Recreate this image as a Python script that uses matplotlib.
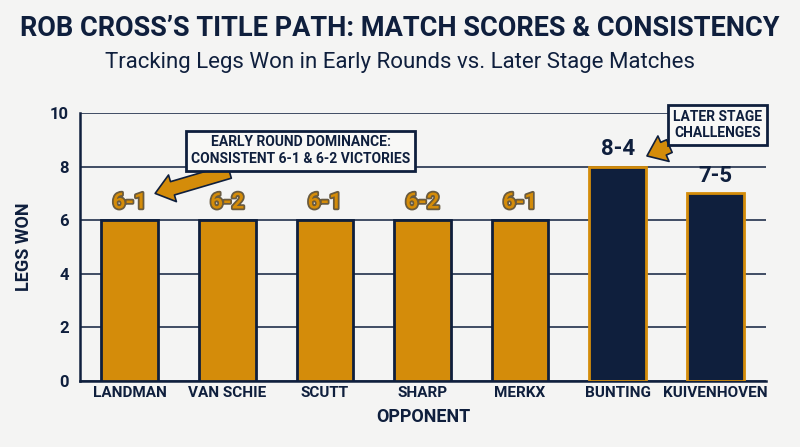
import matplotlib.pyplot as plt
import matplotlib.patheffects as pe

plt.rcParams['font.family'] = ['Roboto', 'DejaVu Sans']

opponents = ['LANDMAN', 'VAN SCHIE', 'SCUTT', 'SHARP', 'MERKX', 'BUNTING', 'KUIVENHOVEN']
legs_won = [6, 6, 6, 6, 6, 8, 7]
scores = ['6-1', '6-2', '6-1', '6-2', '6-1', '8-4', '7-5']
later_stage = [False, False, False, False, False, True, True]

gold = '#D48C0A'
navy = '#0F1F3D'
bg = '#F4F4F3'

fig = plt.figure(figsize=(8, 4.47), dpi=100, facecolor=bg)
ax = fig.add_axes([0.1, 0.148, 0.8575, 0.599])
ax.set_facecolor(bg)

x = range(len(opponents))
for i in x:
    fc = navy if later_stage[i] else gold
    ec = gold if later_stage[i] else navy
    ax.bar(i, legs_won[i], width=0.58, color=fc, edgecolor=ec, linewidth=2, zorder=3)
    if later_stage[i]:
        ax.text(i, legs_won[i] + 0.25, scores[i], ha='center', va='bottom',
                fontsize=16, fontweight='bold', color=navy, zorder=4)
    else:
        ax.text(i, legs_won[i] + 0.25, scores[i], ha='center', va='bottom',
                fontsize=16, fontweight='bold', color=gold, zorder=4,
                path_effects=[pe.withStroke(linewidth=2.5, foreground='#3a2806', alpha=0.75)])

ax.set_xlim(-0.51, 6.52)
ax.set_ylim(0, 10)
ax.set_yticks(range(0, 11, 2))
ax.yaxis.grid(True, color=navy, linewidth=1.1, zorder=0)
ax.tick_params(axis='both', length=0, colors=navy, labelsize=12)
ax.tick_params(axis='y', pad=8)
ax.set_xticks(list(x))
ax.set_xticklabels(opponents, fontweight='bold', fontsize=11)
for lbl in ax.get_yticklabels():
    lbl.set_fontweight('bold')
for s in ['top', 'right']:
    ax.spines[s].set_visible(False)
for s in ['left', 'bottom']:
    ax.spines[s].set_color(navy)
    ax.spines[s].set_linewidth(1.8)

ax.set_ylabel('LEGS WON', fontsize=13, fontweight='bold', color=navy, labelpad=12)
ax.set_xlabel('OPPONENT', fontsize=13, fontweight='bold', color=navy, labelpad=6)

box = dict(boxstyle='square,pad=0.35', fc='#F8F8F6', ec=navy, lw=2)
arrow = dict(arrowstyle='simple,head_length=1.3,head_width=2.0,tail_width=1.0',
             fc=gold, ec=navy, lw=1.2, shrinkA=0, shrinkB=0)
ax.annotate('EARLY ROUND DOMINANCE:\nCONSISTENT 6-1 & 6-2 VICTORIES',
            xy=(0.26, 7.0), xytext=(1.75, 8.6), ha='center', va='center',
            fontsize=10, fontweight='bold', color=navy, bbox=box,
            arrowprops=arrow, zorder=5, annotation_clip=False)
ax.annotate('LATER STAGE\nCHALLENGES',
            xy=(5.3, 8.4), xytext=(6.02, 9.55), ha='center', va='center',
            fontsize=10, fontweight='bold', color=navy, bbox=box,
            arrowprops=arrow, zorder=5, annotation_clip=False)

fig.text(0.5, 0.937, 'ROB CROSS\u2019S TITLE PATH: MATCH SCORES & CONSISTENCY',
         ha='center', va='center', fontsize=19.5, fontweight='bold', color=navy)
fig.text(0.5, 0.86, 'Tracking Legs Won in Early Rounds vs. Later Stage Matches',
         ha='center', va='center', fontsize=16, color=navy)

fig.savefig('out.png', dpi=100, facecolor=bg)
